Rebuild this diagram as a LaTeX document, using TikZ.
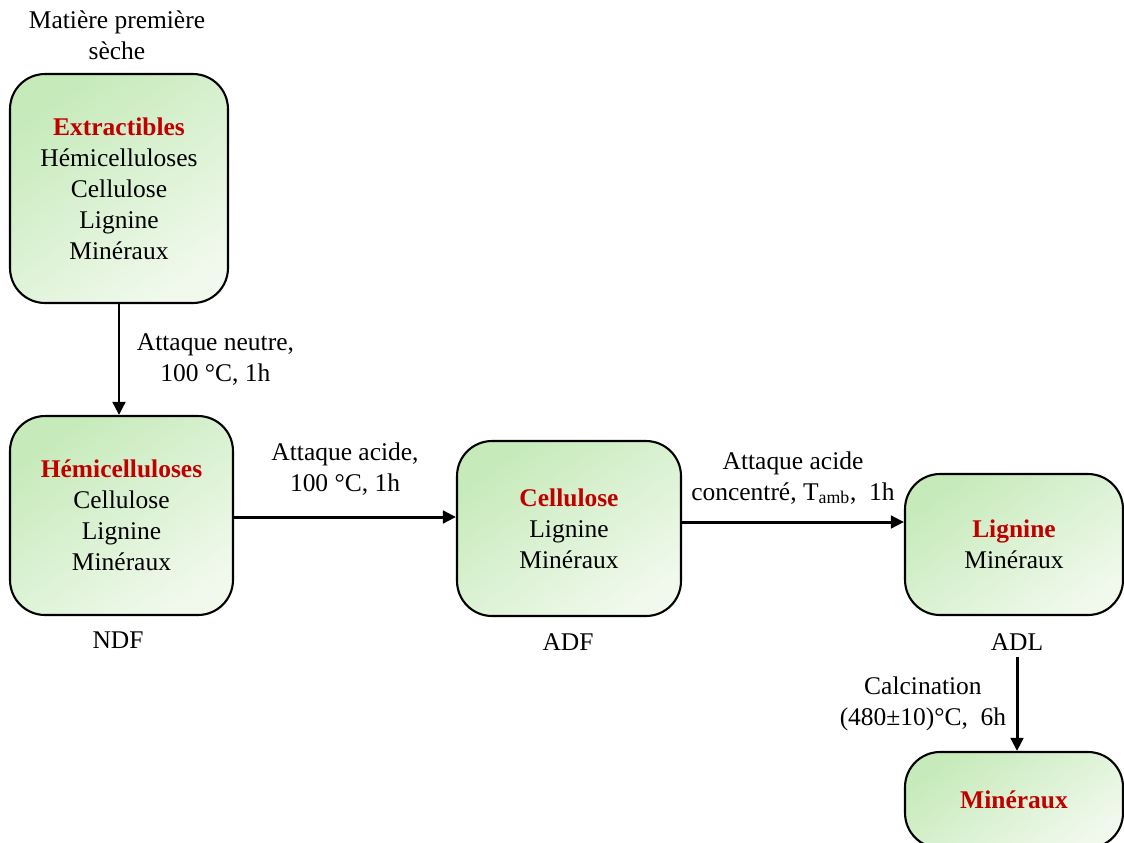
\documentclass[tikz,border=0pt]{standalone}
\usepackage{fontspec}
\setmainfont{Liberation Serif}
\usetikzlibrary{arrows.meta,calc}
\definecolor{rouge}{HTML}{C00000}
\definecolor{vertfonce}{HTML}{C6EABA}
\definecolor{vertclair}{HTML}{F0F9EC}
\tikzset{
  boite/.style={draw, line width=1.2pt, rounded corners=0.7cm, align=center,
    top color=vertfonce, bottom color=vertclair, shading angle=35,
    font=\fontsize{14.5}{17.6}\selectfont},
  txt/.style={align=center, font=\fontsize{14.5}{17.6}\selectfont},
  fleche/.style={->, line width=1.7pt}
}
\newcommand{\rg}[1]{\textcolor{rouge}{\textbf{#1}}}
\begin{document}
\begin{tikzpicture}[x=0.02cm, y=-0.02cm, >={Triangle[length=2.6mm,width=2.5mm]}]

  \useasboundingbox (0,0) rectangle (1124,842);
  \clip (0,0) rectangle (1124,842);

  % Boites
  \node[boite, minimum width=4.36cm, minimum height=4.58cm] (ext) at (119,188.5)
      {\rg{Extractibles}\\Hémicelluloses\\Cellulose\\Lignine\\Minéraux};
  \node[boite, minimum width=4.46cm, minimum height=3.98cm] (ndf) at (121.5,515.5)
      {\rg{Hémicelluloses}\\Cellulose\\Lignine\\Minéraux};
  \node[boite, minimum width=4.48cm, minimum height=3.5cm] (adf) at (569,528.5)
      {\rg{Cellulose}\\Lignine\\Minéraux};
  \node[boite, minimum width=4.36cm, minimum height=2.82cm] (adl) at (1014,544.5)
      {\rg{Lignine}\\Minéraux};
  \node[boite, minimum width=4.36cm, minimum height=1.92cm] (min) at (1014,800)
      {\rg{Minéraux}};

  % Etiquettes
  \node[txt] (mat) at (117,35) {Matière première\\sèche};
  \node[txt] (lndf) at (118,640) {NDF};
  \node[txt] (ladf) at (568,642) {ADF};
  \node[txt] (ladl) at (1017,642) {ADL};

  % Attaques
  \draw[fleche] (ext.south) -- (ext.south |- ndf.north)
      node[midway, right=6pt, txt] {Attaque neutre,\\100 °C, 1h};
  \draw[fleche] ($(ndf.east)+(0,1.5)$) -- ($(ndf.east -| adf.west)+(0,1.5)$)
      node[midway, above=8pt, txt] {Attaque acide,\\100 °C, 1h};
  \draw[fleche] ($(adf.east)+(0,-6.5)$) -- ($(adf.east -| adl.west)+(0,-6.5)$)
      node[midway, above=6pt, txt] {Attaque acide\\concentré, T\textsubscript{amb}, \ 1h};
  \draw[fleche] (ladl.south) -- (ladl.south |- min.north)
      node[midway, left=2pt, txt] {Calcination\\(480±10)°C, \ 6h};

\end{tikzpicture}
\end{document}
